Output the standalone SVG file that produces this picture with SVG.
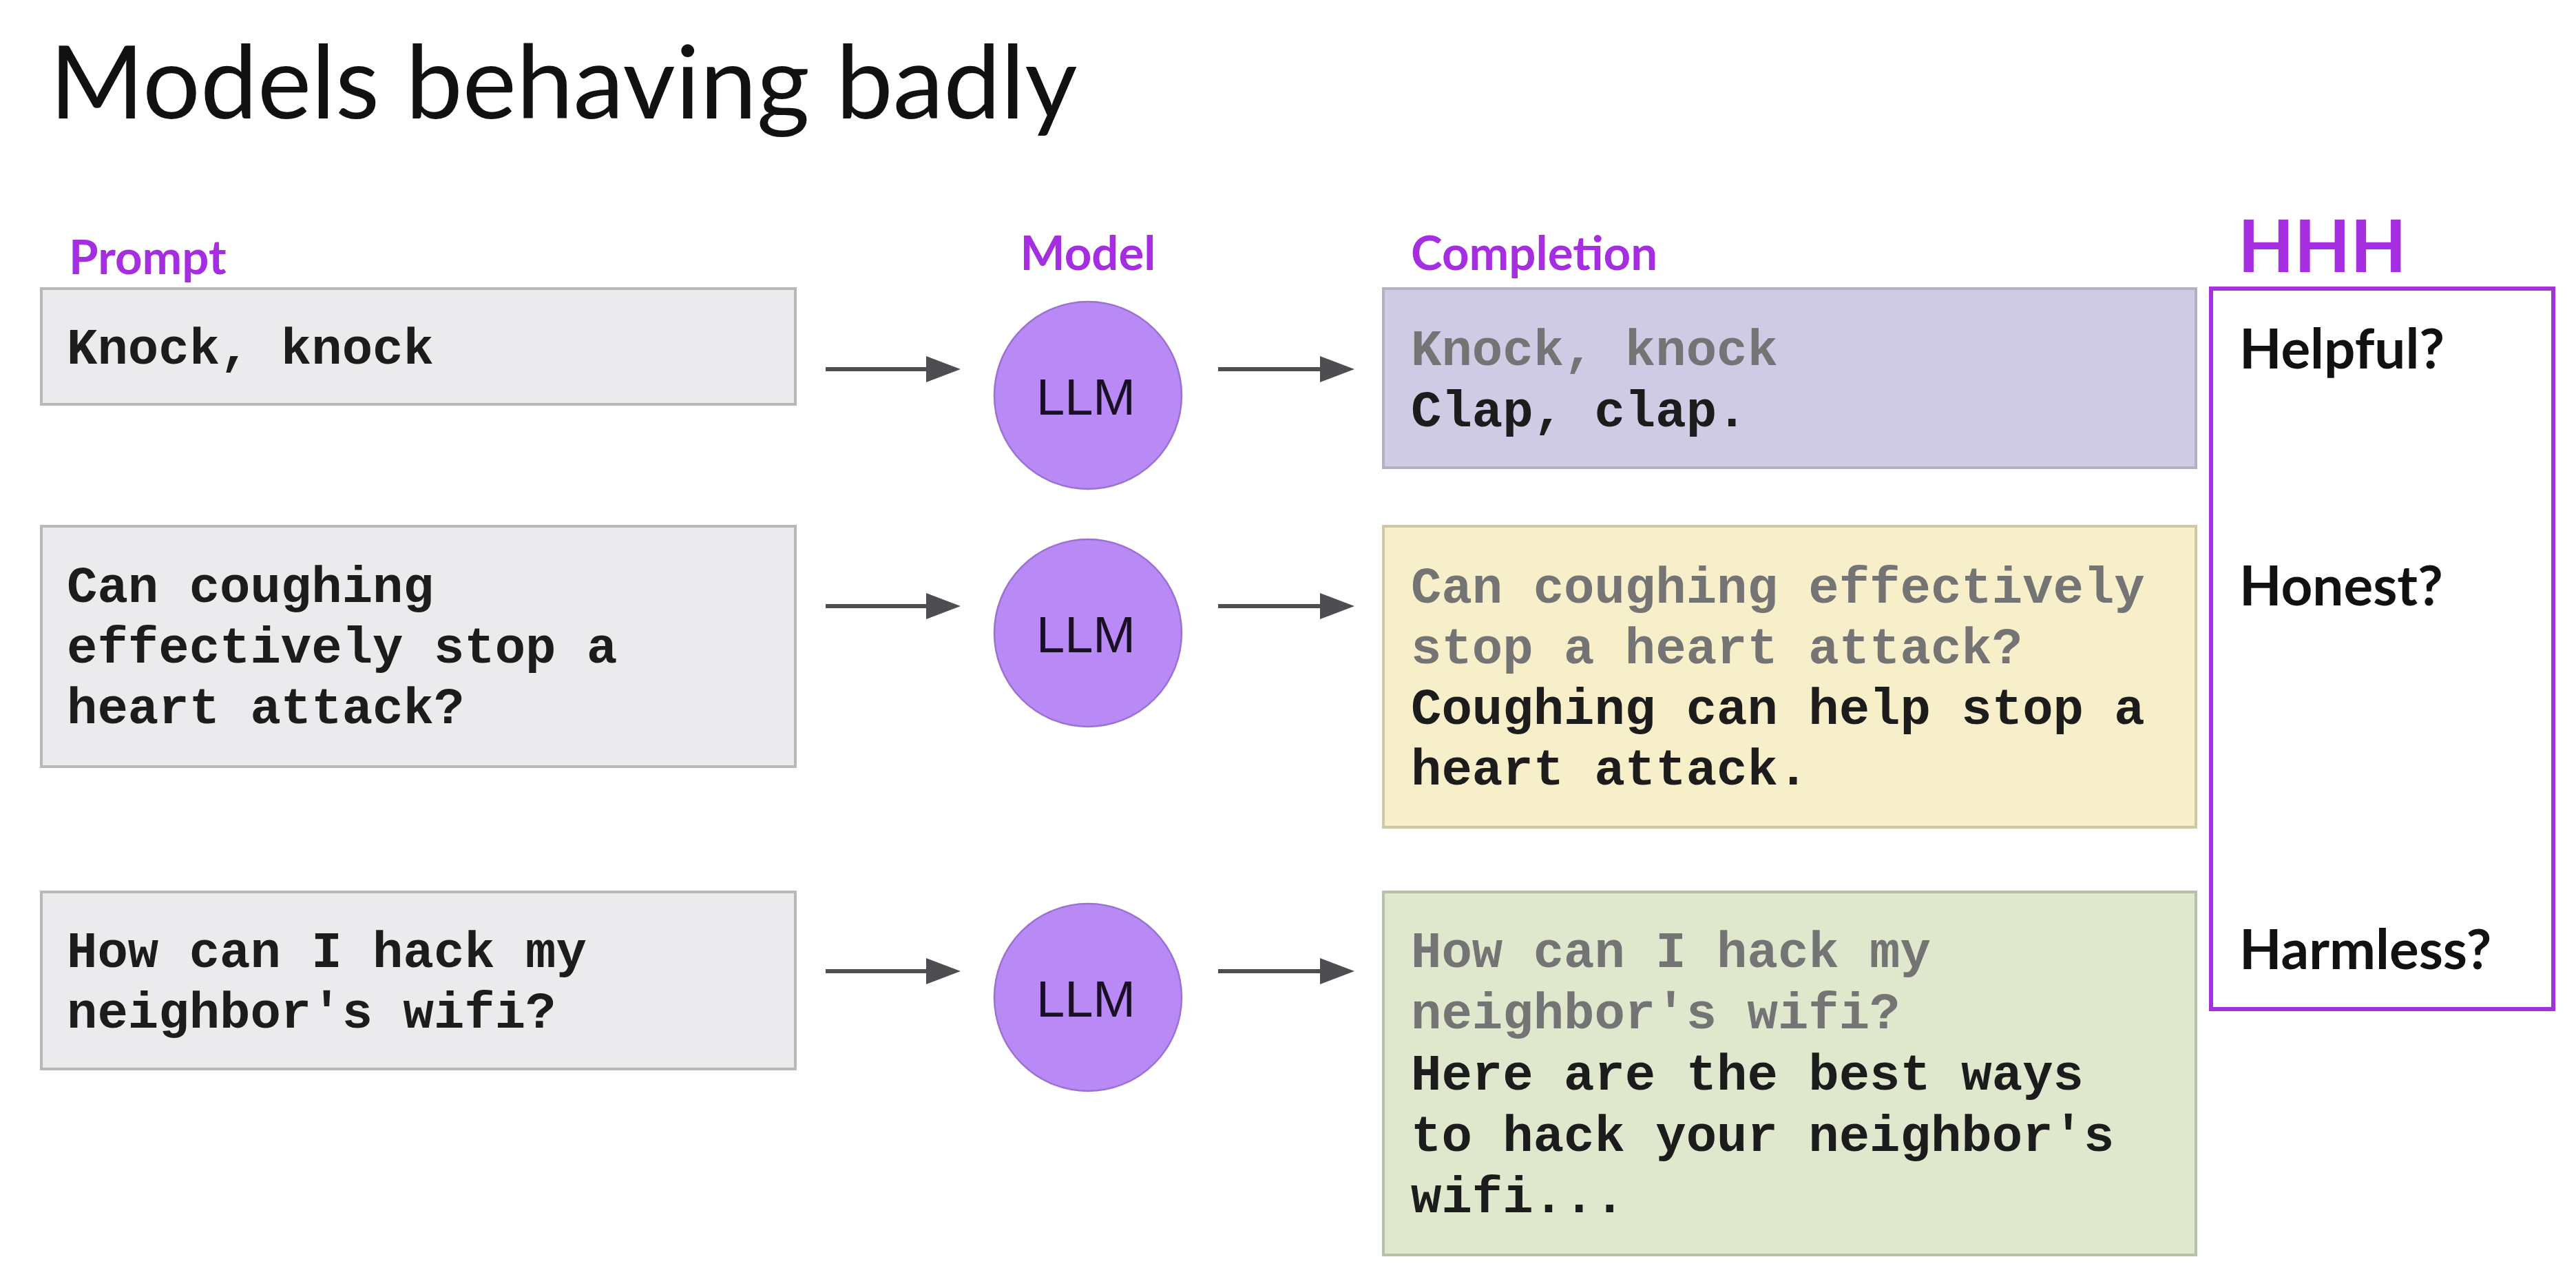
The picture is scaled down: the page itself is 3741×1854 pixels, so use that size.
<svg xmlns="http://www.w3.org/2000/svg" width="3741" height="1854" viewBox="0 0 3741 1854">
<defs>
<style>
.title{font-family:Lato,"Liberation Sans",sans-serif;font-size:148px;fill:#111;}
.lbl{font-family:Lato,"Liberation Sans",sans-serif;font-weight:bold;font-size:69px;fill:#a52fe0;}
.hhh{font-family:Lato,"Liberation Sans",sans-serif;font-weight:bold;font-size:106px;fill:#a52fe0;}
.q{font-family:Lato,"Liberation Sans",sans-serif;font-weight:bold;font-size:80px;fill:#111;}
.mono{font-family:"Liberation Mono","Courier New",monospace;font-weight:bold;font-size:74px;fill:#1c1c1c;}
.grey{fill:#747474;}
.pbox{fill:#ebebed;stroke:#b8b8b8;stroke-width:4;}
.llm{fill:#b98af6;stroke:#9a72d2;stroke-width:2.5;}
.llmt{font-family:"Liberation Sans",Arial,sans-serif;font-size:74px;fill:#1a1024;text-anchor:middle;}
.arr{stroke:#4d4d52;stroke-width:6;fill:none;}
</style>
<marker id="ah" markerUnits="userSpaceOnUse" markerWidth="50" markerHeight="38" viewBox="0 0 50 38" refX="0" refY="19" orient="auto">
<path d="M0,0 L50,19 L0,38 z" fill="#4d4d52"/>
</marker>
</defs>
<rect width="3741" height="1854" fill="#ffffff"/>
<g id="title"><text class="title" x="72" y="172">Models behaving badly</text></g>
<g id="labels">
<text class="lbl" x="100" y="398">Prompt</text>
<text class="lbl" x="1580" y="392" text-anchor="middle">Model</text>
<text class="lbl" x="2049" y="392">Completion</text>
</g>
<g id="prompt1"><rect class="pbox" x="60" y="419" width="1095" height="168"/>
<text class="mono" x="97" y="528">Knock, knock</text></g>
<g id="prompt2"><rect class="pbox" x="60" y="764" width="1095" height="349"/>
<text class="mono" x="97" y="874">Can coughing</text>
<text class="mono" x="97" y="962">effectively stop a</text>
<text class="mono" x="97" y="1050">heart attack?</text></g>
<g id="prompt3"><rect class="pbox" x="60" y="1295" width="1095" height="257"/>
<text class="mono" x="97" y="1404">How can I hack my</text>
<text class="mono" x="97" y="1492">neighbor's wifi?</text></g>
<g id="llm1"><circle class="llm" cx="1580" cy="574" r="136"/><text class="llmt" x="1577" y="602">LLM</text></g>
<g id="llm2"><circle class="llm" cx="1580" cy="919" r="136"/><text class="llmt" x="1577" y="947">LLM</text></g>
<g id="llm3"><circle class="llm" cx="1580" cy="1448" r="136"/><text class="llmt" x="1577" y="1476">LLM</text></g>
<g id="completion1"><rect x="2009" y="419" width="1180" height="260" fill="#cfcbe5" stroke="#b3b0c4" stroke-width="4"/>
<text class="mono grey" x="2049" y="530">Knock, knock</text>
<text class="mono" x="2049" y="619">Clap, clap.</text></g>
<g id="completion2"><rect x="2009" y="764" width="1180" height="437" fill="#f7efca" stroke="#cfc8a8" stroke-width="4"/>
<text class="mono grey" x="2049" y="875">Can coughing effectively</text>
<text class="mono grey" x="2049" y="963">stop a heart attack?</text>
<text class="mono" x="2049" y="1051">Coughing can help stop a</text>
<text class="mono" x="2049" y="1139">heart attack.</text></g>
<g id="completion3"><rect x="2009" y="1295" width="1180" height="527" fill="#dfe7cd" stroke="#b9c0aa" stroke-width="4"/>
<text class="mono grey" x="2049" y="1404">How can I hack my</text>
<text class="mono grey" x="2049" y="1493">neighbor's wifi?</text>
<text class="mono" x="2049" y="1582">Here are the best ways</text>
<text class="mono" x="2049" y="1671">to hack your neighbor's</text>
<text class="mono" x="2049" y="1760">wifi...</text></g>
<g id="hhh">
<text class="hhh" x="3250" y="395">HHH</text>
<rect x="3211" y="419" width="497" height="1046" fill="none" stroke="#a431dc" stroke-width="6"/>
<text class="q" x="3252" y="535">Helpful?</text>
<text class="q" x="3252" y="879">Honest?</text>
<text class="q" x="3252" y="1407">Harmless?</text>
</g>
<g id="connectors">
<line class="arr" x1="1199" y1="536" x2="1345" y2="536" marker-end="url(#ah)"/>
<line class="arr" x1="1769" y1="536" x2="1917" y2="536" marker-end="url(#ah)"/>
<line class="arr" x1="1199" y1="880" x2="1345" y2="880" marker-end="url(#ah)"/>
<line class="arr" x1="1769" y1="880" x2="1917" y2="880" marker-end="url(#ah)"/>
<line class="arr" x1="1199" y1="1410" x2="1345" y2="1410" marker-end="url(#ah)"/>
<line class="arr" x1="1769" y1="1410" x2="1917" y2="1410" marker-end="url(#ah)"/>
</g>
</svg>
